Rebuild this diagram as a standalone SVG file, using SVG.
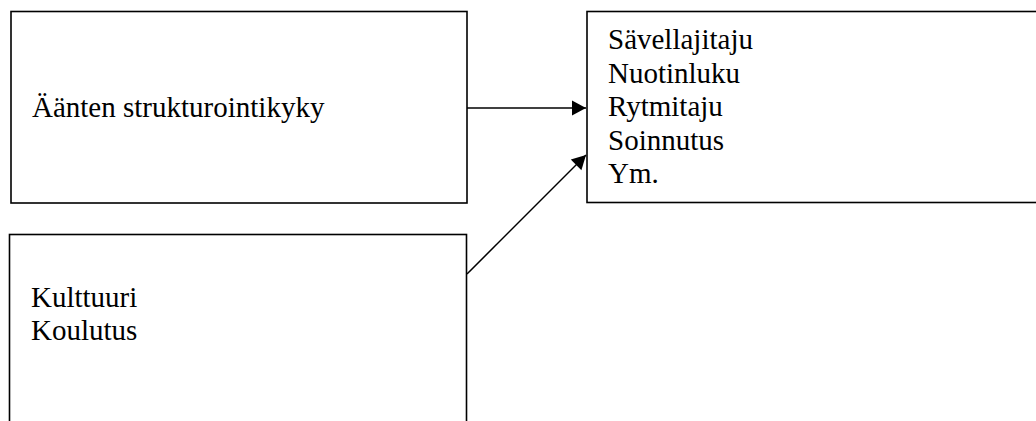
<svg xmlns="http://www.w3.org/2000/svg" width="1036" height="421" viewBox="0 0 1036 421">
  <style>
    .box { fill: #ffffff; stroke: #000000; stroke-width: 1.6; }
    .label { font-family: "Liberation Serif", "Times New Roman", serif; font-size: 29px; fill: #000000; }
    .edge { fill: none; stroke: #000000; stroke-width: 1.5; }
  </style>
  <defs>
    <marker id="arrow" markerUnits="userSpaceOnUse" markerWidth="16" markerHeight="16" viewBox="0 0 16 16" refX="15" refY="8" orient="auto">
      <path d="M1,0.5 L15,8 L1,15.5 Z" fill="#000000"/>
    </marker>
  </defs>

  <rect width="1036" height="421" fill="#ffffff"/>

  <g id="node-structuring">
    <rect class="box" x="11" y="11.5" width="456" height="191.5"/>
    <text class="label" x="32" y="117">Äänten strukturointikyky</text>
  </g>

  <g id="node-culture">
    <rect class="box" x="9.5" y="234.5" width="457" height="200"/>
    <text class="label" x="31" y="307">Kulttuuri</text>
    <text class="label" x="31" y="340">Koulutus</text>
  </g>

  <g id="node-skills">
    <rect class="box" x="587" y="11.5" width="460" height="191"/>
    <text class="label" x="608" y="49">Sävellajitaju</text>
    <text class="label" x="608" y="82.5">Nuotinluku</text>
    <text class="label" x="608" y="116">Rytmitaju</text>
    <text class="label" x="608" y="149.5">Soinnutus</text>
    <text class="label" x="608" y="183">Ym.</text>
  </g>

  <g id="connectors">
    <line class="edge" x1="467" y1="108" x2="586" y2="108" marker-end="url(#arrow)"/>
    <line class="edge" x1="467" y1="274" x2="586" y2="155" marker-end="url(#arrow)"/>
  </g>
</svg>
